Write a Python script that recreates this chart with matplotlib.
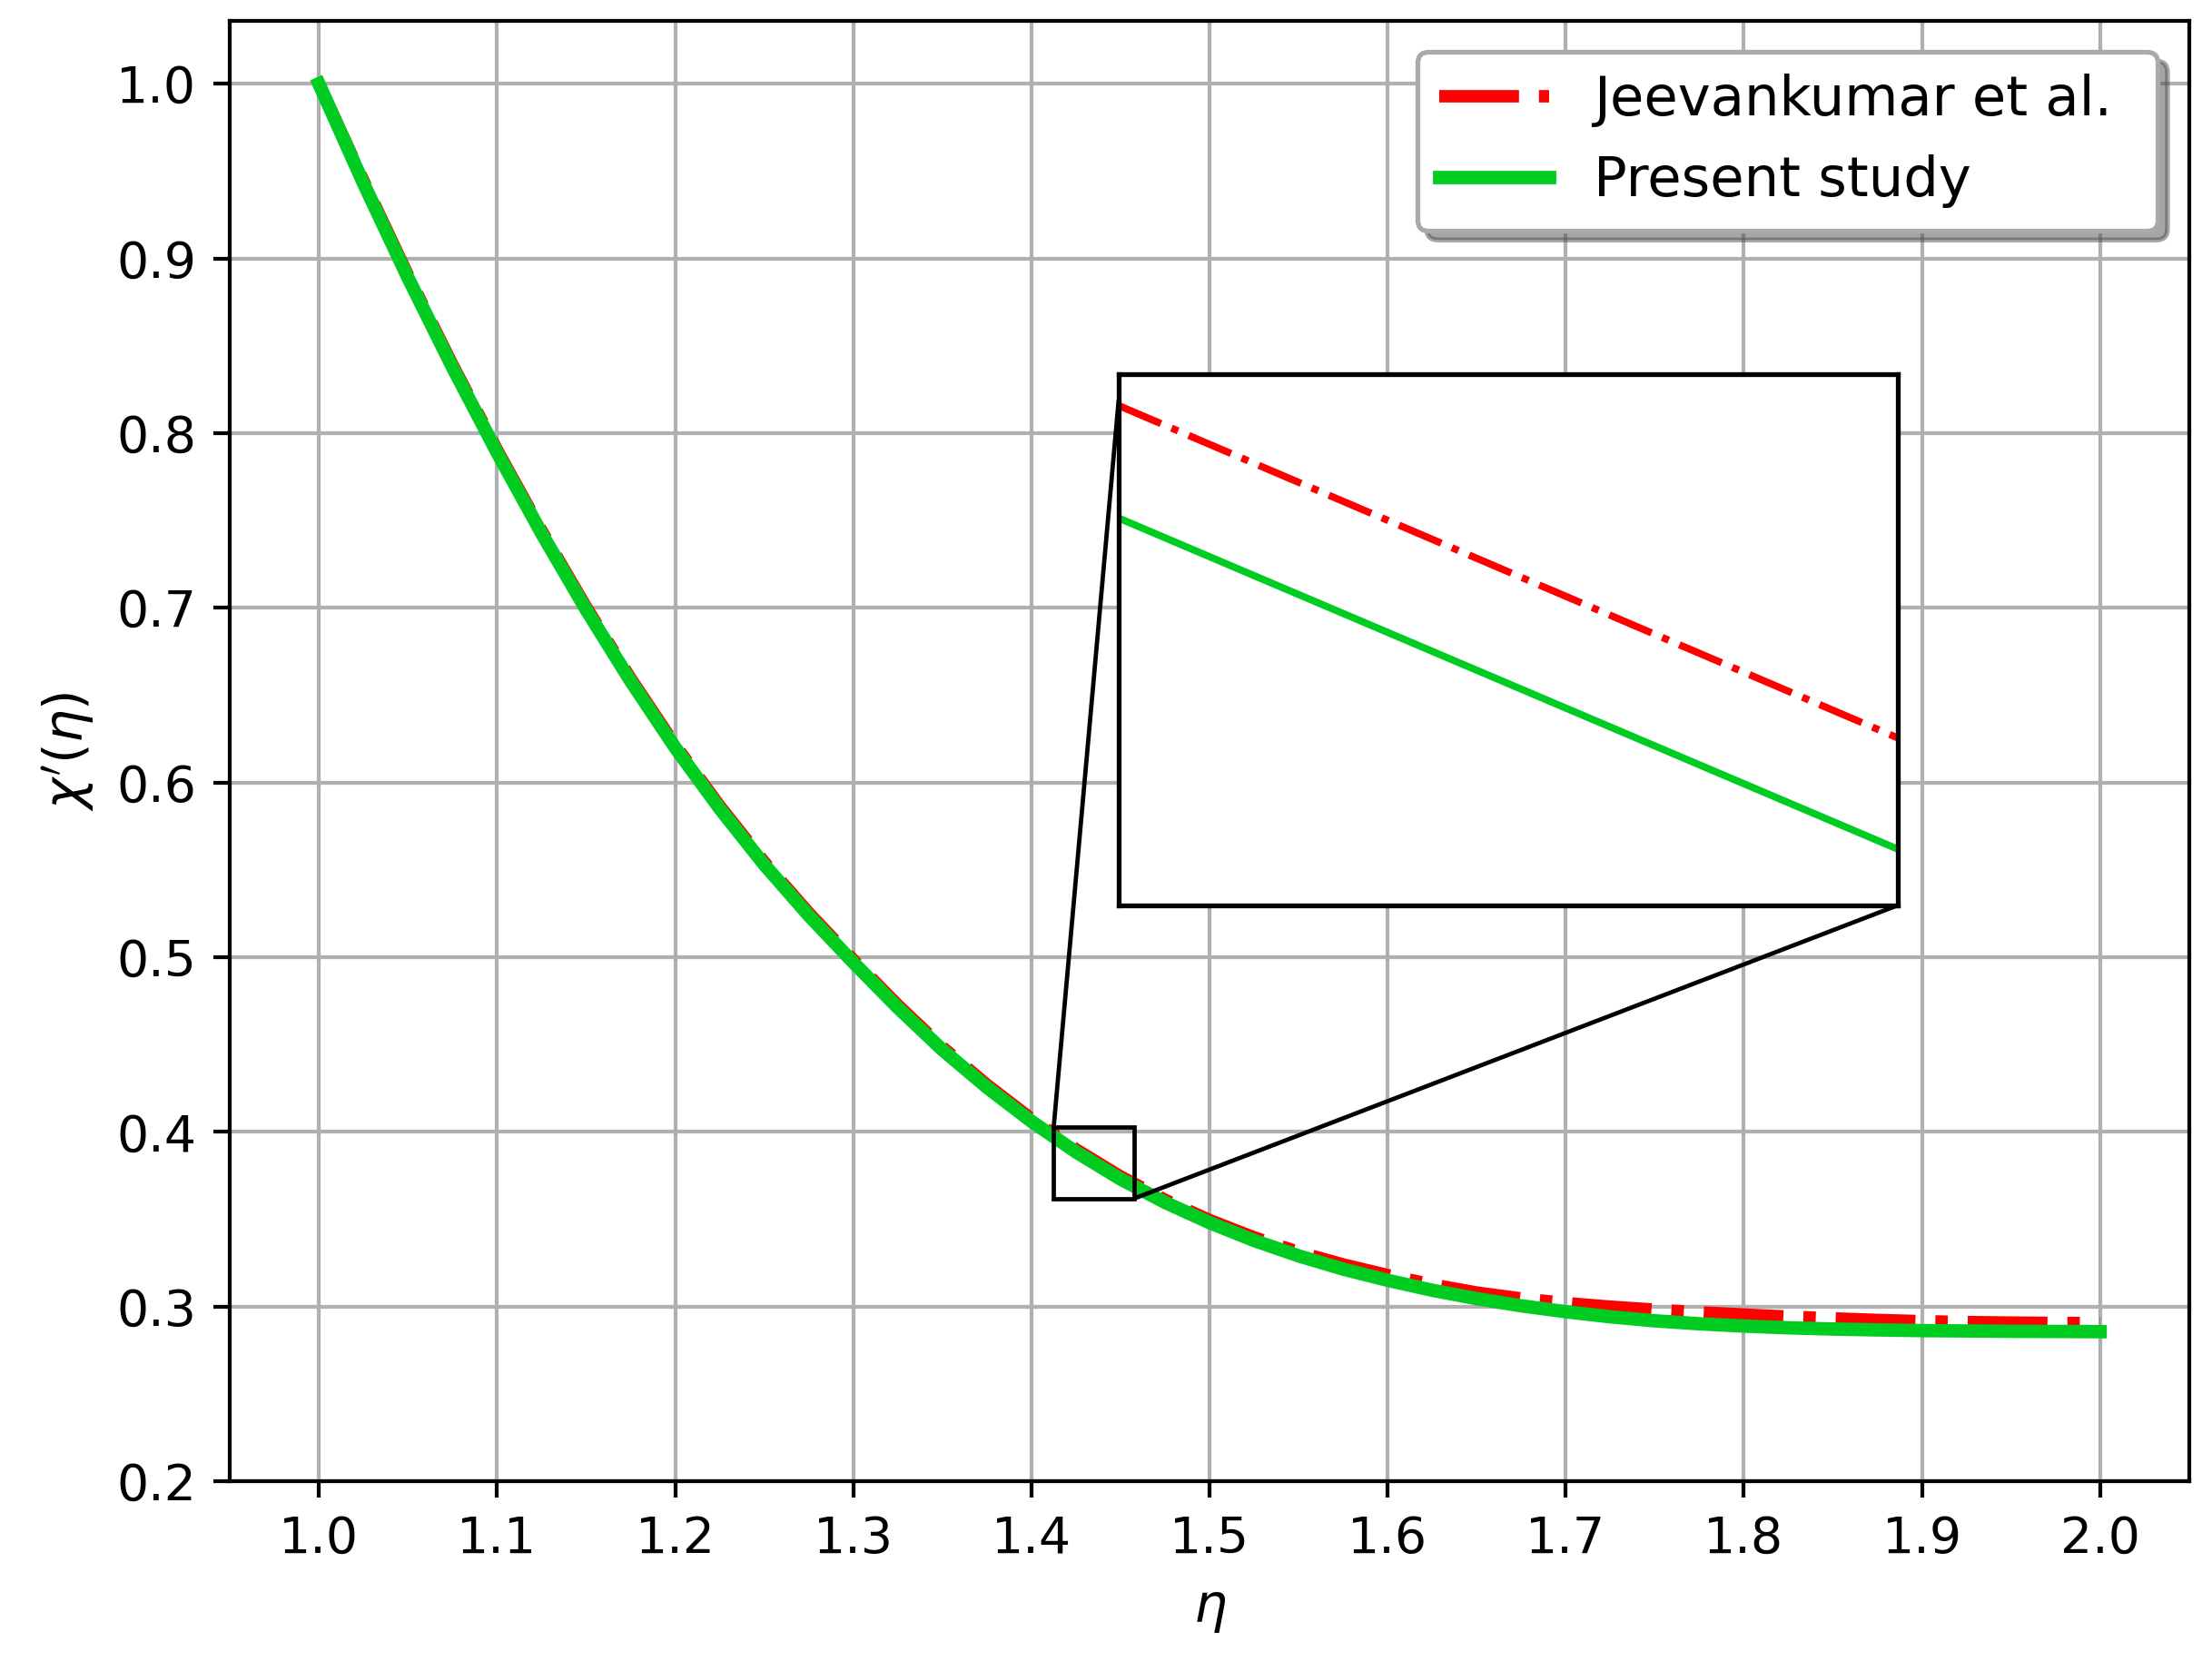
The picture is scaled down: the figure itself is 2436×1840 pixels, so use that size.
import matplotlib
matplotlib.use("Agg")
import matplotlib.pyplot as plt
from matplotlib.patches import Rectangle, ConnectionPatch

# main curves
eta = [1.0, 1.025, 1.05, 1.075, 1.1, 1.125, 1.15, 1.175, 1.2, 1.225, 1.25,
       1.275, 1.3, 1.325, 1.35, 1.375, 1.4, 1.425, 1.45, 1.475, 1.5,
       1.525, 1.55, 1.575, 1.6, 1.625, 1.65, 1.675, 1.7, 1.725, 1.75,
       1.775, 1.8, 1.825, 1.85, 1.875, 1.9, 1.925, 1.95, 1.975, 2.0]
present = [1.000, 0.9431, 0.889, 0.8377, 0.789, 0.7427, 0.699, 0.6581, 0.620, 0.5851, 0.553,
           0.5239, 0.497, 0.4711, 0.447, 0.4255, 0.406, 0.3885, 0.373, 0.3596, 0.348,
           0.3378, 0.329, 0.3214, 0.315, 0.3093, 0.3045, 0.3004, 0.297, 0.2941, 0.2918,
           0.2901, 0.2888, 0.2878, 0.2871, 0.2866, 0.2862, 0.2860, 0.2858, 0.2857, 0.2856]
jeevan = [1.000, 0.9446, 0.8905, 0.8392, 0.7905, 0.7442, 0.7005, 0.6596, 0.6215, 0.5866, 0.5545,
          0.5254, 0.4985, 0.4726, 0.4485, 0.427, 0.4075, 0.39, 0.3745, 0.3611, 0.3495,
          0.3396, 0.3312, 0.3241, 0.318, 0.3126, 0.308, 0.3046, 0.302, 0.2999, 0.2982,
          0.2967, 0.2954, 0.2942, 0.2932, 0.2923, 0.2916, 0.2911, 0.2908, 0.2906, 0.2905]

# zoomed window content
zoom_x = [1.4125, 1.4579]
zoom_jeevan = [0.4001, 0.3747]
zoom_present = [0.3915, 0.3662]
zoom_ylim = [0.3619, 0.4025]

red = "#ff0000"
green = "#00cc22"

fig = plt.figure(figsize=(2436 / 380, 1840 / 380), dpi=380)
ax = fig.add_axes([0.1039, 0.1136, 0.8858, 0.8739])

ax.plot(eta, jeevan, "-.", color=red, lw=2.6, label="Jeevankumar et al.")
ax.plot(eta, present, "-", color=green, lw=2.8, label="Present study")

ax.set_xlim(0.95, 2.05)
ax.set_ylim(0.2, 1.036)
ax.set_xticks([1.0 + 0.1 * i for i in range(11)])
ax.set_yticks([0.2 + 0.1 * i for i in range(9)])
ax.tick_params(labelsize=10.5)
ax.set_xlabel(r"$\eta$", fontsize=11)
ax.set_ylabel(r"$\chi'(\eta)$", fontsize=11)
ax.grid(True, color="#b0b0b0", lw=0.8)

# legend stretched to the width seen in the reference
leg = ax.legend(loc="upper left", bbox_to_anchor=(0.606, 0.5, 0.378, 0.479),
                mode="expand", borderaxespad=0, fontsize=11.5, shadow=True,
                fancybox=True, framealpha=1, edgecolor="#aaaaaa")

# zoom box on the main axes
x0, x1 = zoom_x
y0, y1 = zoom_ylim
ax.add_patch(Rectangle((x0, y0), x1 - x0, y1 - y0, fill=False, ec="black", lw=0.9, zorder=5))

axins = fig.add_axes([0.5057, 0.4582, 0.3522, 0.3179])
axins.plot(zoom_x, zoom_jeevan, "-.", color=red, lw=1.5)
axins.plot(zoom_x, zoom_present, "-", color=green, lw=1.5)
axins.set_xlim(x0, x1)
axins.set_ylim(y0, y1)
axins.set_xticks([])
axins.set_yticks([])
for s in axins.spines.values():
    s.set_linewidth(1.0)

c1 = ConnectionPatch(xyA=(x0, y1), coordsA=ax.transData,
                     xyB=(0, 0.95), coordsB=axins.transAxes, color="black", lw=0.9)
c2 = ConnectionPatch(xyA=(x1, y0), coordsA=ax.transData,
                     xyB=(1, 0), coordsB=axins.transAxes, color="black", lw=0.9)
fig.add_artist(c1)
fig.add_artist(c2)

fig.savefig("out.png", dpi=380)
